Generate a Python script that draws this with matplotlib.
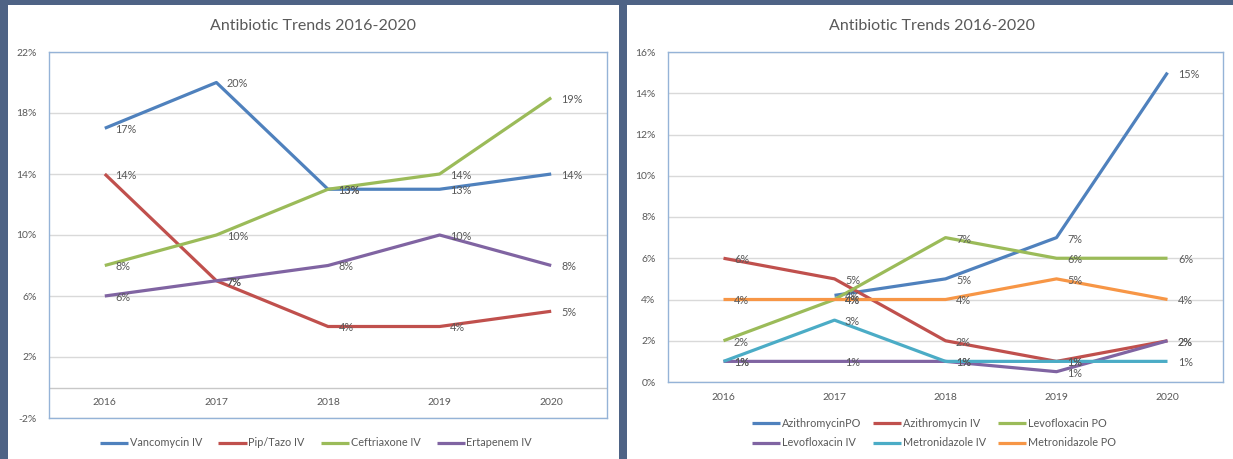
import numpy as np
import matplotlib.pyplot as plt
from matplotlib.patches import Rectangle

plt.rcParams['font.family'] = ['Lato', 'DejaVu Sans']

years = ["2016", "2017", "2018", "2019", "2020"]

# left chart (percent)
vancomycin_iv = [17, 20, 13, 13, 14]
pip_tazo_iv = [14, 7, 4, 4, 5]
ceftriaxone_iv = [8, 10, 13, 14, 19]
ertapenem_iv = [6, 7, 8, 10, 8]

# right chart (percent)
azithromycin_po = [np.nan, 4.2, 5, 7, 15]
azithromycin_iv = [6, 5, 2, 1, 2]
levofloxacin_po = [2, 4, 7, 6, 6]
levofloxacin_iv = [1, 1, 1, 0.5, 2]
metronidazole_iv = [1, 3, 1, 1, 1]
metronidazole_po = [4, 4, 4, 5, 4]

left_yticks = [-2, 2, 6, 10, 14, 18, 22]
right_yticks = [0, 2, 4, 6, 8, 10, 12, 14, 16]

BG = "#4e6385"
TEXT = "#595959"
BOX = "#95b3d7"
GRID = "#d9d9d9"
BLUE, RED, GREEN, PURPLE, AQUA, ORANGE = "#4f81bd", "#c0504d", "#9bbb59", "#8064a2", "#4bacc6", "#f79646"

W, H = 1233, 459
fig = plt.figure(figsize=(W / 100, H / 100), dpi=100, facecolor=BG)


def fx(px):
    return px / W


def fy(py):
    return 1 - py / H


# white panels behind both charts
fig.patches.append(Rectangle((fx(8), 0), fx(619) - fx(8), fy(5), transform=fig.transFigure,
                             facecolor="white", edgecolor="none", zorder=-10))
fig.patches.append(Rectangle((fx(627), 0), 1 - fx(627), fy(5), transform=fig.transFigure,
                             facecolor="white", edgecolor="none", zorder=-10))


def label_text(v):
    # excel style rounding (0.5 -> 1)
    return f"{int(v + 0.5)}%"


def draw_series(ax, series):
    handles = []
    x = np.arange(len(years))
    for name, vals, color in series:
        line, = ax.plot(x, vals, color=color, lw=2.3, label=name, solid_capstyle="butt")
        handles.append(line)
        for i, v in enumerate(vals):
            if np.isnan(v):
                continue
            ax.annotate(label_text(v), (i, v), xytext=(7.5, -1), textcoords="offset points",
                        ha="left", va="center", fontsize=7.8, color=TEXT)
    return handles


def style_axes(ax, yticks):
    ax.set_xlim(-0.5, len(years) - 0.5)
    ax.set_ylim(yticks[0], yticks[-1])
    ax.set_yticks(yticks)
    ax.set_yticklabels([f"{t}%" for t in yticks])
    ax.yaxis.grid(True, color=GRID, lw=1)
    ax.set_axisbelow(True)
    for s in ax.spines.values():
        s.set_color(BOX)
        s.set_linewidth(1)
    ax.tick_params(axis="y", length=0, pad=9, labelsize=7.5, labelcolor=TEXT)
    ax.set_facecolor("white")


# ---- left chart
axl = fig.add_axes([fx(49), fy(418), fx(607) - fx(49), (418 - 52) / H])
left_series = [
    ("Vancomycin IV", vancomycin_iv, BLUE),
    ("Pip/Tazo IV", pip_tazo_iv, RED),
    ("Ceftriaxone IV", ceftriaxone_iv, GREEN),
    ("Ertapenem IV", ertapenem_iv, PURPLE),
]
hl = draw_series(axl, left_series)
style_axes(axl, left_yticks)
axl.axhline(0, color="#c8c8c8", lw=1, zorder=1)
axl.set_xticks([])
for i, yr in enumerate(years):
    axl.text(i, -1, yr, ha="center", va="center", fontsize=7.5, color=TEXT)

fig.text(fx(313), fy(26), "Antibiotic Trends 2016-2020", ha="center", va="center",
         fontsize=11.5, color=TEXT)
fig.legend(hl, [s[0] for s in left_series], loc="center", bbox_to_anchor=(fx(316), fy(443)),
           ncol=4, frameon=False, fontsize=7.8, handlelength=2.6, handletextpad=0.15,
           columnspacing=1.5, labelcolor=TEXT)

# ---- right chart
axr = fig.add_axes([fx(668), fy(382), fx(1223) - fx(668), (382 - 52) / H])
right_series = [
    ("AzithromycinPO", azithromycin_po, BLUE),
    ("Azithromycin IV", azithromycin_iv, RED),
    ("Levofloxacin PO", levofloxacin_po, GREEN),
    ("Levofloxacin IV", levofloxacin_iv, PURPLE),
    ("Metronidazole IV", metronidazole_iv, AQUA),
    ("Metronidazole PO", metronidazole_po, ORANGE),
]
hr = draw_series(axr, right_series)
style_axes(axr, right_yticks)
axr.set_xticks(np.arange(len(years)))
axr.set_xticklabels(years)
axr.tick_params(axis="x", length=0, pad=8, labelsize=7.5, labelcolor=TEXT)

fig.text(fx(932), fy(26), "Antibiotic Trends 2016-2020", ha="center", va="center",
         fontsize=11.5, color=TEXT)
# legend fills row by row like the original
order = [0, 3, 1, 4, 2, 5]
fig.legend([hr[k] for k in order], [right_series[k][0] for k in order], loc="center",
           bbox_to_anchor=(fx(934), fy(433)), ncol=3, frameon=False, fontsize=7.8,
           handlelength=2.6, handletextpad=0.15, columnspacing=1.1, labelspacing=0.8,
           labelcolor=TEXT)

fig.savefig("out.png", dpi=100, facecolor=BG)
